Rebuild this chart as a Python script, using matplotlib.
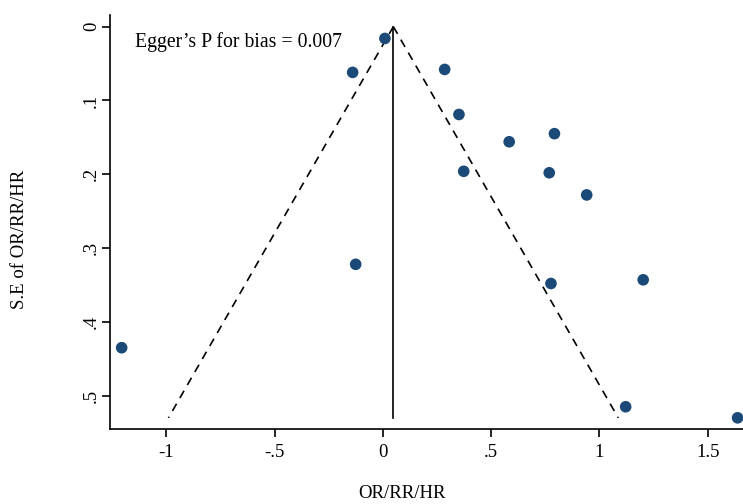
import matplotlib
matplotlib.use('Agg')
import matplotlib.pyplot as plt
import numpy as np

plt.rcParams['font.family'] = ['Liberation Serif', 'DejaVu Serif']

# Study effects (log OR/RR/HR) and their standard errors
effect = [0.009, -0.140, 0.285, 0.351, 0.583, 0.792, 0.373, 0.768,
          0.941, -0.126, -1.207, 0.776, 1.202, 1.121, 1.638]
se = [0.016, 0.062, 0.058, 0.119, 0.156, 0.145, 0.196, 0.198,
      0.228, 0.322, 0.435, 0.348, 0.343, 0.515, 0.530]

pooled = 0.048
se_max = 0.530
egger_text = "Egger\u2019s P for bias = 0.007"

xticks = [-1, -0.5, 0, 0.5, 1, 1.5]
xticklabels = ['-1', '-.5', '0', '.5', '1', '1.5']
yticks = [0, 0.1, 0.2, 0.3, 0.4, 0.5]
yticklabels = ['0', '.1', '.2', '.3', '.4', '.5']

fig = plt.figure(figsize=(7.43, 5.04), dpi=100)
ax = fig.add_axes([0.148, 0.149, 0.852, 0.821])

# Pseudo 95% confidence limits
se_line = np.array([0, se_max])
ax.plot(pooled - 1.96 * se_line, se_line, color='black', linestyle=(0, (5, 4)),
        linewidth=1.2, zorder=1)
ax.plot(pooled + 1.96 * se_line, se_line, color='black', linestyle=(0, (5, 4)),
        linewidth=1.2, zorder=1)
ax.plot([pooled, pooled], [0, se_max], color='black', linewidth=1.2, zorder=1)

ax.scatter(effect, se, s=70, color='#1b4a78', edgecolors='none', zorder=3,
           clip_on=False)

ax.text(-1.145, 0.021, egger_text, fontsize=14.2, ha='left', va='center')

ax.set_xlim(-1.261, 1.663)
ax.set_ylim(0.545, -0.0156)

ax.set_xticks(xticks)
ax.set_xticklabels(xticklabels)
ax.set_yticks(yticks)
ax.set_yticklabels(yticklabels, rotation=90, va='center')
ax.tick_params(labelsize=13.5, length=6, width=1.2, direction='out')
ax.tick_params(axis='x', pad=5)
ax.tick_params(axis='y', pad=1)

ax.spines['top'].set_visible(False)
ax.spines['right'].set_visible(False)
ax.spines['left'].set_linewidth(1.2)
ax.spines['bottom'].set_linewidth(1.2)

ax.set_xlabel('OR/RR/HR', fontsize=13.5, va='center')
ax.xaxis.set_label_coords(0.462, -0.156)
ax.set_ylabel('S.E of OR/RR/HR', fontsize=13.5, va='center')
ax.yaxis.set_label_coords(-0.143, 0.459)

fig.savefig('out.png', dpi=100)
